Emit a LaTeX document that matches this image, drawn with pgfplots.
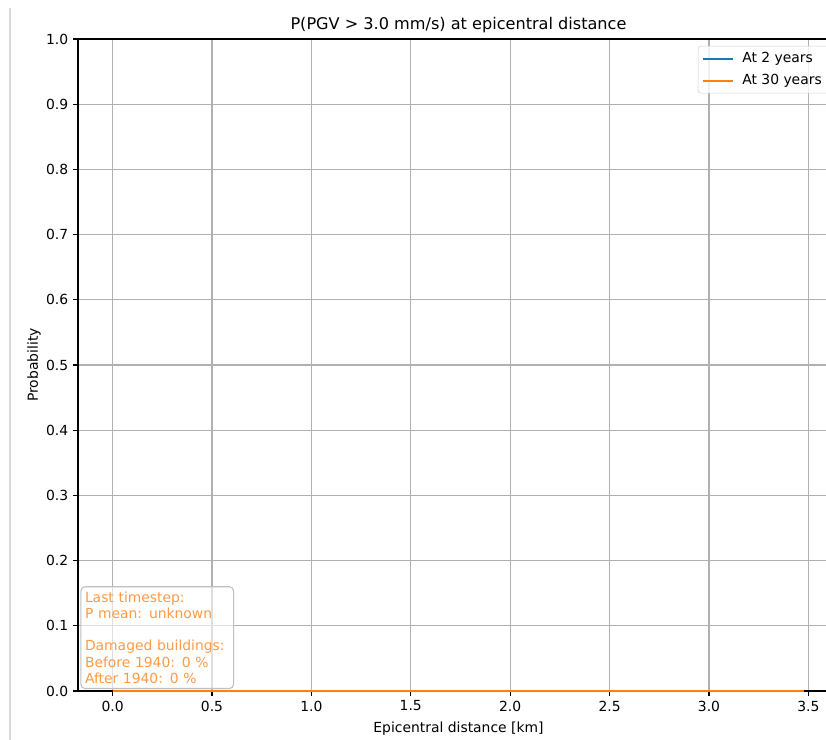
\documentclass[border=0pt]{standalone}
\usepackage{pgfplots}
\pgfplotsset{compat=1.18}
\usepackage{fontspec}
\setmainfont{DejaVu Sans}
\definecolor{mplblue}{HTML}{1F77B4}
\definecolor{mplorange}{HTML}{FF7F0E}
\definecolor{txtorange}{HTML}{FF9A45}
\definecolor{gridgray}{HTML}{B0B0B0}
\begin{document}
\begin{tikzpicture}
\clip (0pt,0pt) rectangle (594.72pt,532.8pt);
\draw[gray!30, line width=0.8pt] (7.2pt,0pt) -- (7.2pt,527pt);
\begin{axis}[
  at={(56.16pt,35.28pt)}, anchor=south west,
  scale only axis,
  width=547.9pt, height=469.44pt,
  xmin=-0.174, xmax=3.654, ymin=0, ymax=1,
  xtick={0,0.5,...,3.5}, ytick={0,0.1,...,1.0},
  xticklabel style={/pgf/number format/.cd, fixed, fixed zerofill, precision=1},
  yticklabel style={/pgf/number format/.cd, fixed, fixed zerofill, precision=1},
  /pgf/number format/assume math mode=true,
  tick label style={font=\fontsize{10}{12}\selectfont},
  label style={font=\fontsize{10}{12}\selectfont},
  tick pos=left, tick align=outside,
  major tick length=3.5pt,
  every tick/.style={black, line width=0.8pt},
  axis line style={line width=0.8pt},
  grid=major, grid style={gridgray, line width=0.8pt},
  title={P(PGV > 3.0 mm/s) at epicentral distance},
  title style={font=\fontsize{11.6}{14}\selectfont, yshift=-5.4pt},
  xlabel={Epicentral distance [km]},
  ylabel={Probability},
  xlabel style={yshift=-0.6pt},
  ylabel style={yshift=-3pt},
  clip=false,
  legend cell align=left,
  legend style={at={(rel axis cs:1,1)}, anchor=north east, xshift=-7.2pt, yshift=-5pt,
    draw=gray!35, rounded corners=2pt, fill=white, fill opacity=0.8, text opacity=1,
    font=\fontsize{10}{12}\selectfont, row sep=3pt, inner xsep=3pt, inner ysep=2.5pt},
  legend image code/.code={\draw[#1] (0pt,0pt) -- (21pt,0pt); \path (25.3pt,0pt);},
]
\addplot[mplblue, line width=1.5pt] coordinates {(0,0) (0.5,0) (1,0) (1.5,0) (2,0) (2.5,0) (3,0) (3.48,0)};
\addlegendentry{At 2 years}
\addplot[mplorange, line width=1.5pt] coordinates {(0,0) (0.5,0) (1,0) (1.5,0) (2,0) (2.5,0) (3,0) (3.48,0)};
\addlegendentry{At 30 years}
\node[anchor=south west, draw=gray!50, line width=0.8pt, rounded corners=3pt, fill=white, fill opacity=0.6, text opacity=1,
  text=txtorange, align=left, text width=104pt, inner xsep=3pt, inner ysep=3.5pt, font=\fontsize{10}{11.7}\selectfont]
  at (rel axis cs:0.003,0.003) {Last timestep:\\P mean: unknown\\[11.7pt]Damaged buildings:\\Before 1940: 0 \%\\After 1940: 0 \%};
\end{axis}
\end{tikzpicture}
\end{document}
